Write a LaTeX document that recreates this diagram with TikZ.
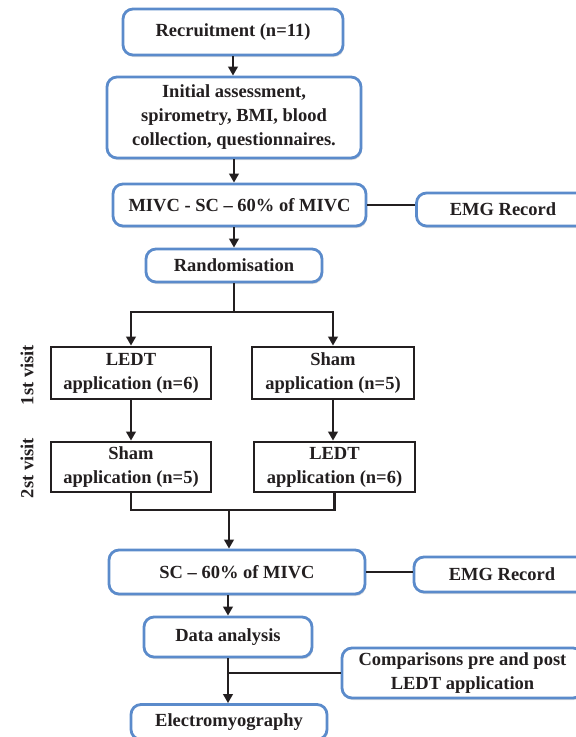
\documentclass[tikz,border=0pt]{standalone}
\usepackage{fontspec}
\setmainfont{Liberation Serif}
\usepackage{tikz}
\usetikzlibrary{arrows.meta,positioning,calc,shadows}
\definecolor{boxc}{HTML}{5B8BCB}
\definecolor{inkc}{HTML}{231F20}
\definecolor{shdc}{HTML}{B9B9B9}
\tikzset{
  >={Triangle[length=9pt,width=9.5pt]},
  txt/.style={font=\bfseries\fontsize{18.5}{24}\selectfont,text=inkc,align=center,inner sep=0pt},
  rbox/.style={txt,draw=boxc,line width=2.8pt,rounded corners=10pt,fill=white,
    drop shadow={shadow xshift=1pt,shadow yshift=-2pt,fill=shdc,opacity=.5}},
  sbox/.style={txt,draw=inkc,line width=2.8pt,fill=white},
  flow/.style={->,line width=2.4pt,draw=inkc},
  link/.style={line width=2.4pt,draw=inkc},
  visit/.style={txt,rotate=90},
}
\newcommand{\flowbox}[6][rbox]{\node[#1,minimum width=#4,minimum height=#5] (#2) at (#3) {#6};}

\begin{document}
\begin{tikzpicture}[x=1pt,y=-1pt]
  \useasboundingbox (0,0) rectangle (576,737);
  \clip (0,0) rectangle (576,737);
  \flowbox{rec}{233,32}{220pt}{46pt}{Recruitment (n=11)}
  \flowbox{init}{234,117.5}{254pt}{81pt}{Initial assessment,\\spirometry, BMI, blood\\collection, questionnaires.}
  \flowbox{mivc}{239.5,205}{253pt}{42pt}{MIVC - SC -- 60\% of MIVC}
  \flowbox{emga}{503,209.5}{173pt}{33pt}{EMG Record}
  \flowbox{rand}{234,265.5}{176pt}{33pt}{Randomisation}
  \flowbox[sbox]{ledta}{131,373}{160pt}{52pt}{LEDT\\application (n=6)}
  \flowbox[sbox]{shama}{333,373}{162pt}{52pt}{Sham\\application (n=5)}
  \flowbox[sbox]{shamb}{131,467}{160pt}{50pt}{Sham\\application (n=5)}
  \flowbox[sbox]{ledtb}{334.5,467}{161pt}{50pt}{LEDT\\application (n=6)}
  \node[visit] (va) at (27,375) {1st visit};
  \node[visit] (vb) at (27,468) {2st visit};
  \flowbox{sc}{237,572}{256pt}{44pt}{SC -- 60\% of MIVC}
  \flowbox{emgb}{502,574.5}{176pt}{35pt}{EMG Record}
  \flowbox{data}{228,637}{168pt}{40pt}{Data analysis}
  \flowbox{comp}{462.5,673}{241pt}{50pt}{Comparisons pre and post\\LEDT application}
  \flowbox{emy}{229,722}{196pt}{35pt}{Electromyography}
  \coordinate (split) at (234,312);
  \coordinate (join) at (229,510);
  \draw[flow] (rec.south) -- (rec.south |- init.north);
  \draw[flow] (init.south) -- (init.south |- mivc.north);
  \draw[link] (mivc.east) -- (mivc.east -| emga.west);
  \draw[flow] (rand.north |- mivc.south) -- (rand.north);
  \draw[link] (rand.south) -- (split);
  \draw[flow] (split) -| (ledta.north);
  \draw[flow] (split) -| (shama.north);
  \draw[flow] (ledta.south) -- (shamb.north);
  \draw[flow] (shama.south) -- (shama.south |- ledtb.north);
  \draw[link] (shamb.south) |- (join);
  \draw[link] (ledtb.south) |- (join);
  \draw[flow] (join) -- (join |- sc.north);
  \draw[link] (sc.east) -- (sc.east -| emgb.west);
  \draw[flow] (data.north |- sc.south) -- (data.north);
  \draw[flow] (data.south) -- (data.south |- emy.north);
  \draw[link] (data.south |- comp.west) -- (comp.west);
\end{tikzpicture}
\end{document}
